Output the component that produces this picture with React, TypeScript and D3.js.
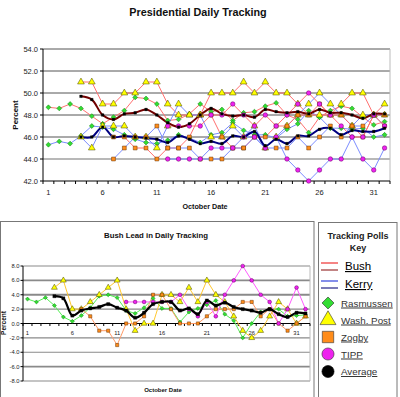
import React from 'react';
import * as d3 from 'd3';

// October days on the category axis
const days = [1, 2, 3, 4, 5, 6, 7, 8, 9, 10, 11, 12, 13, 14, 15, 16, 17, 18, 19, 20, 21, 22, 23, 24, 25, 26, 27, 28, 29, 30, 31, 32];
const dayTicks = [1, 6, 11, 16, 21, 26, 31];
const pctTicks = [42, 44, 46, 48, 50, 52, 54];
const leadTicks = [-8, -6, -4, -2, 0, 2, 4, 6, 8];

const _ = null;

// Rasmussen
const rasBush = [48.7, 48.6, 49.0, 48.6, 47.9, 47.2, 47.8, 48.4, 49.6, 49.5, 49.0, 47.5, 47.6, 48.1, 49.0, 48.3, 48.5, 47.5, 48.2, 48.3, 48.8, 49.1, 48.0, 47.6, 46.4, 47.8, 48.4, 48.8, 48.6, 47.8, 47.1, 47.4];
const rasKerry = [45.3, 45.6, 45.4, 46.1, 47.0, 46.9, 46.7, 46.2, 45.8, 45.5, 45.4, 45.7, 46.2, 45.9, 45.5, 46.2, 46.4, 47.3, 46.6, 46.2, 46.2, 45.9, 46.7, 47.2, 48.4, 47.8, 46.8, 46.8, 46.7, 46.8, 46.0, 46.2];
const rasLead = [3.4, 3.0, 3.6, 2.5, 0.9, 0.3, 1.1, 2.2, 3.8, 4.0, 3.6, 1.8, 1.4, 2.2, 3.5, 2.1, 2.1, 0.2, 1.6, 2.1, 2.6, 3.2, 1.3, 0.4, -2.0, 0.0, 1.6, 2.0, 2.0, 1.0, 1.1, 1.2];

// Washington Post
const wpBush = [_, _, _, 51, 51, 49, 49, 50, 50, 51, 51, 49, 48, 48, 48, 50, 50, 50, 51, 50, 51, 50, 50, 49, 48, 48, 48, 49, 50, 50, 48, 49];
const wpKerry = [_, _, _, 46, 45, 47, 47, 47, 46, 46, 45, 47, 49, 48, 48, 46, 46, 47, 46, 47, 45, 46, 47, 48, 49, 50, 49, 48, 47, 48, 48, 48];
const wpLead = [_, _, _, 5, 6, 2, 2, 3, 4, 5, 6, 2, -1, 0, 0, 4, 4, 3, 5, 3, 6, 4, 3, 1, -1, -2, -1, 1, 3, 2, 0, 1];

// Zogby
const zogBush = [_, _, _, _, _, _, 46, 46, 45, 45, 44, 45, 45, 46, 48, 48, 46, 45, 45, 46, 46, 47, 47, 48, 48, 49, 48, 48, 47, 46, 48, 48];
const zogKerry = [_, _, _, _, _, _, 44, 45, 46, 46, 47, 45, 45, 45, 44, 44, 44, 45, 45, 46, 45, 45, 45, 46, 45, 46, 47, 46, 47, 47, 48, 47];
const zogLead = [_, _, _, _, _, _, 2, 1, -1, -1, -3, 0, 0, 1, 4, 4, 2, 0, 0, 0, 1, 2, 2, 2, 3, 3, 1, 2, 0, -1, 0, 1];

// TIPP
const tippBush = [_, _, _, _, _, _, _, _, _, _, _, 47, 47, 47, 47, 48, 48, 49, 48, 47, 48, 47, 48, 49, 50, 49, 48, 47, 46, 46, 48, 47];
const tippKerry = [_, _, _, _, _, _, _, _, _, _, _, 44, 44, 44, 44, 45, 45, 45, 46, 46, 45, 46, 44, 43, 42, 43, 44, 44, 46, 44, 43, 45];
const tippLead = [_, _, _, _, _, _, _, _, _, _, _, 3, 3, 3, 3, 3, 3, 4, 2, 1, 3, 1, 4, 6, 8, 6, 4, 3, 0, 2, 5, 2];

// Average
const avgBush = [_, _, _, 49.7, 49.4, 48.0, 47.6, 48.1, 48.2, 48.5, 48.0, 47.3, 46.9, 47.2, 48.0, 48.6, 48.1, 47.9, 48.0, 47.8, 48.5, 48.3, 48.2, 48.3, 48.1, 48.5, 48.2, 48.2, 48.0, 47.7, 48.1, 48.1];
const avgKerry = [_, _, _, 46.0, 46.0, 46.9, 46.0, 46.1, 46.0, 45.9, 45.8, 45.5, 46.1, 45.8, 45.4, 45.6, 45.4, 46.1, 46.0, 46.5, 45.2, 45.8, 45.4, 46.1, 46.1, 46.7, 46.8, 46.2, 46.6, 46.5, 46.5, 46.8];
const avgLead = [_, _, _, 3.8, 3.5, 1.1, 1.8, 2.1, 2.3, 2.7, 2.2, 1.8, 0.8, 1.5, 2.7, 3.0, 3.0, 1.8, 2.1, 1.3, 3.2, 2.5, 2.9, 2.3, 2.0, 1.8, 1.5, 2.0, 1.3, 0.9, 1.5, 1.4];

type Val = number | null;
type Shape = 'diamond' | 'triangle' | 'square' | 'circle';

const polls: { name: string; bush: Val[]; kerry: Val[]; lead: Val[]; shape: Shape; fill: string; stroke: string; leadColor: string }[] = [
  { name: 'Rasmussen', bush: rasBush, kerry: rasKerry, lead: rasLead, shape: 'diamond', fill: '#33dd33', stroke: '#118811', leadColor: '#55ee55' },
  { name: 'Wash. Post', bush: wpBush, kerry: wpKerry, lead: wpLead, shape: 'triangle', fill: '#ffff00', stroke: '#444400', leadColor: '#ffc830' },
  { name: 'Zogby', bush: zogBush, kerry: zogKerry, lead: zogLead, shape: 'square', fill: '#ff8c1a', stroke: '#663300', leadColor: '#ff9a66' },
  { name: 'TIPP', bush: tippBush, kerry: tippKerry, lead: tippLead, shape: 'circle', fill: '#ee22ee', stroke: '#660066', leadColor: '#ff5cff' },
];

const font = 'Arial, "Liberation Sans", sans-serif';

// marker areas for the two charts
const topSize: Record<Shape, number> = { triangle: 20, diamond: 12, square: 15, circle: 16 };
const leadSize: Record<Shape, number> = { triangle: 15, diamond: 8, square: 10, circle: 11 };

function Mark({ shape, x, y, size, fill, stroke, sw = 0.6 }: { shape: Shape; x: number; y: number; size: number; fill: string; stroke: string; sw?: number }) {
  const t = shape === 'triangle' ? d3.symbolTriangle : shape === 'circle' ? d3.symbolCircle : d3.symbolSquare;
  const d = d3.symbol().type(t).size(size)() as string;
  const rot = shape === 'diamond' ? ' rotate(45)' : '';
  return <path d={d} transform={`translate(${x},${y})${rot}`} fill={fill} stroke={stroke} strokeWidth={sw} />;
}

const pairs = (vals: Val[]) => days.map((d, i) => [d, vals[i]] as [number, Val]);

export default function App() {
  // top chart scales
  const xT = d3.scaleBand<number>().domain(days).range([43, 390]);
  const cxT = (d: number) => (xT(d) as number) + xT.bandwidth() / 2;
  const yT = d3.scaleLinear().domain([42, 54]).range([181, 49]);
  // lead chart scales
  const xL = d3.scaleBand<number>().domain(days).range([23, 310]);
  const cxL = (d: number) => (xL(d) as number) + xL.bandwidth() / 2;
  const yL = d3.scaleLinear().domain([-8, 8]).range([381, 266]);

  const mkLine = (cx: (d: number) => number, y: d3.ScaleLinear<number, number>, smooth = false) => {
    const l = d3.line<[number, Val]>().defined(p => p[1] != null).x(p => cx(p[0])).y(p => y(p[1] as number));
    if (smooth) l.curve(d3.curveCatmullRom);
    return l;
  };
  const lineT = mkLine(cxT, yT);
  const avgT = mkLine(cxT, yT, true);
  const lineL = mkLine(cxL, yL);
  const avgL = mkLine(cxL, yL, true);

  const edgesT = [...days.map(d => xT(d) as number), (xT(32) as number) + xT.bandwidth()];
  const edgesL = [...days.map(d => xL(d) as number), (xL(32) as number) + xL.bandwidth()];

  const legendItems: { label: string; shape: Shape; fill: string; stroke: string; y: number }[] = [
    ...polls.map((p, i) => ({ label: p.name, shape: p.shape, fill: p.fill, stroke: p.stroke, y: 303 + i * 17 })),
    { label: 'Average', shape: 'circle' as Shape, fill: '#000', stroke: '#000', y: 371.5 },
  ];

  return (
    <svg width={400} height={397} style={{ position: 'absolute', left: 0, top: 0, background: '#fff' }} fontFamily={font}>
      <rect width={400} height={397} fill="#fff" />

      {/* ---------- top chart ---------- */}
      <text x={198} y={16} textAnchor="middle" fontSize={10.8} fontWeight="bold" fill="#111">Presidential Daily Tracking</text>
      {pctTicks.filter(t => t > 42).map(t => (
        <line key={t} x1={43} x2={390} y1={yT(t)} y2={yT(t)} stroke={t === 44 ? '#b8b8b8' : '#555'} strokeWidth={t === 44 ? 2 : 1} />
      ))}
      <line x1={390} x2={390} y1={49} y2={181} stroke="#bbb" />
      {pctTicks.map(t => (
        <g key={t}>
          <line x1={40} x2={43} y1={yT(t)} y2={yT(t)} stroke="#000" />
          <text x={38} y={yT(t) + 2.6} textAnchor="end" fontSize={7.5} fill="#222">{t.toFixed(1)}</text>
        </g>
      ))}
      {edgesT.map((e, i) => <line key={i} x1={e} x2={e} y1={181} y2={184} stroke="#000" />)}
      {dayTicks.map(d => <text key={d} x={cxT(d)} y={194.5} textAnchor="middle" fontSize={7.5} fill="#222">{d}</text>)}
      <line x1={43} x2={43} y1={49} y2={181} stroke="#000" />
      <line x1={43} x2={390} y1={181} y2={181} stroke="#000" />
      <text transform="translate(18,115) rotate(-90)" textAnchor="middle" fontSize={8} fontWeight="bold" fill="#111">Percent</text>
      <text x={205} y={209} textAnchor="middle" fontSize={7.2} fontWeight="bold" fill="#111">October Date</text>

      {polls.map(p => (
        <g key={p.name}>
          <path d={lineT(pairs(p.bush)) as string} fill="none" stroke="#ff7070" strokeWidth={1} />
          <path d={lineT(pairs(p.kerry)) as string} fill="none" stroke="#7b8cff" strokeWidth={1} />
        </g>
      ))}
      <path d={avgT(pairs(avgBush)) as string} fill="none" stroke="#700000" strokeWidth={2} />
      <path d={avgT(pairs(avgKerry)) as string} fill="none" stroke="#000080" strokeWidth={2} />
      {polls.map(p => (
        <g key={p.name}>
          {[...pairs(p.bush), ...pairs(p.kerry)].filter(q => q[1] != null).map((q, i) => (
            <Mark key={i} shape={p.shape} x={cxT(q[0])} y={yT(q[1] as number)} size={topSize[p.shape]} fill={p.fill} stroke={p.stroke} sw={0.5} />
          ))}
        </g>
      ))}
      {[...pairs(avgBush), ...pairs(avgKerry)].filter(q => q[1] != null).map((q, i) => (
        <Mark key={i} shape="square" x={cxT(q[0])} y={yT(q[1] as number)} size={7} fill="#000" stroke="#000" sw={0.3} />
      ))}

      {/* ---------- lead chart ---------- */}
      <rect x={0.5} y={221.5} width={313.5} height={200} fill="none" stroke="#777" />
      <text x={156} y={237.5} textAnchor="middle" fontSize={7.8} fontWeight="bold" fill="#111">Bush Lead in Daily Tracking</text>
      {leadTicks.filter(t => t !== 0).map(t => (
        <line key={t} x1={23} x2={310} y1={yL(t)} y2={yL(t)} stroke="#8a8a8a" strokeWidth={Math.abs(t) === 6 || t === 4 ? 1.8 : 1.1} />
      ))}
      <line x1={310} x2={310} y1={266} y2={381} stroke="#bbb" />
      {leadTicks.map(t => (
        <g key={t}>
          <line x1={20.5} x2={23} y1={yL(t)} y2={yL(t)} stroke="#000" />
          <text x={19.5} y={yL(t) + 2} textAnchor="end" fontSize={5.8} fill="#222">{t.toFixed(1)}</text>
        </g>
      ))}
      <line x1={23} x2={23} y1={266} y2={381} stroke="#000" />
      <line x1={23} x2={310} y1={yL(0)} y2={yL(0)} stroke="#000" />
      {edgesL.map((e, i) => <line key={i} x1={e} x2={e} y1={yL(0)} y2={yL(0) + 2.5} stroke="#000" />)}
      {dayTicks.map(d => <text key={d} x={cxL(d)} y={335} textAnchor="middle" fontSize={5.8} fill="#222">{d}</text>)}
      <text transform="translate(6,323) rotate(-90)" textAnchor="middle" fontSize={6.5} fontWeight="bold" fill="#111">Percent</text>
      <text x={163} y={392} textAnchor="middle" fontSize={6} fontWeight="bold" fill="#111">October Date</text>

      {polls.map(p => (
        <path key={p.name} d={lineL(pairs(p.lead)) as string} fill="none" stroke={p.leadColor} strokeWidth={1} />
      ))}
      {polls.map(p => (
        <g key={p.name}>
          {pairs(p.lead).filter(q => q[1] != null).map((q, i) => (
            <Mark key={i} shape={p.shape} x={cxL(q[0])} y={yL(q[1] as number)} size={leadSize[p.shape]} fill={p.fill} stroke={p.stroke} sw={0.5} />
          ))}
        </g>
      ))}
      <path d={avgL(pairs(avgLead)) as string} fill="none" stroke="#000" strokeWidth={2.2} />
      {pairs(avgLead).filter(q => q[1] != null).map((q, i) => (
        <Mark key={i} shape="square" x={cxL(q[0])} y={yL(q[1] as number)} size={10} fill="#000" stroke="#000" sw={0.3} />
      ))}

      {/* ---------- legend ---------- */}
      <rect x={318.5} y={222.5} width={78.5} height={200} fill="#fff" stroke="#777" />
      <text x={358} y={238.5} textAnchor="middle" fontSize={9} fontWeight="bold" fill="#222">Tracking Polls</text>
      <text x={358} y={250.5} textAnchor="middle" fontSize={9} fontWeight="bold" fill="#222">Key</text>
      <line x1={321} x2={338} y1={263} y2={263} stroke="#ee3333" strokeWidth={1.2} />
      <line x1={321} x2={338} y1={270} y2={270} stroke="#993333" strokeWidth={1.2} />
      <text x={345} y={270} fontSize={11.5} fill="#000" textDecoration="underline">Bush</text>
      <line x1={321} x2={338} y1={281} y2={281} stroke="#3344dd" strokeWidth={1.2} />
      <line x1={321} x2={338} y1={288} y2={288} stroke="#222288" strokeWidth={1.2} />
      <text x={345} y={288} fontSize={11.5} fill="#000" textDecoration="underline">Kerry</text>
      {legendItems.map(it => (
        <g key={it.label}>
          <Mark shape={it.shape} x={328} y={it.y} size={it.shape === 'diamond' ? 72 : it.shape === 'triangle' ? 110 : it.shape === 'square' ? 130 : 115} fill={it.fill} stroke={it.fill === '#000' ? '#000' : '#333'} sw={0.6} />
          <text x={341} y={it.y + 3.5} fontSize={9.8} fill="#333" textDecoration="underline">{it.label}</text>
        </g>
      ))}
    </svg>
  );
}
